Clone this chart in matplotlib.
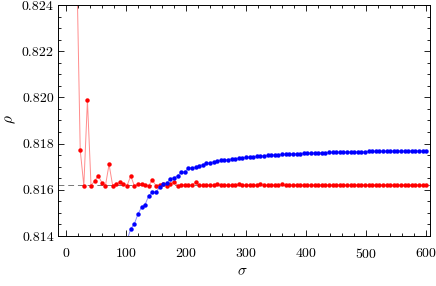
import numpy as np
import matplotlib
matplotlib.use("Agg")
import matplotlib.pyplot as plt
from matplotlib.ticker import MultipleLocator

plt.rcParams['font.family'] = 'serif'
plt.rcParams['font.serif'] = ['cmr10', 'DejaVu Serif']
plt.rcParams['mathtext.fontset'] = 'cm'
plt.rcParams['axes.formatter.use_mathtext'] = True

# red series: sigma = 18, 24, ..., 600
sigma_red = np.arange(18, 601, 6)
rho_red_head = [0.8261, 0.81772, 0.81618, 0.81987, 0.81618, 0.81638, 0.81661, 0.81631,
                0.81618, 0.81710, 0.81618, 0.81627, 0.81632, 0.81624, 0.81618, 0.81660,
                0.81618, 0.81624, 0.81627, 0.81622, 0.81618, 0.81642, 0.81618, 0.81621,
                0.81624, 0.81618, 0.81624, 0.81635, 0.81618, 0.81621, 0.81622, 0.81619,
                0.81620, 0.81633, 0.81619, 0.81620, 0.81621, 0.81619, 0.81620, 0.81627,
                0.81619, 0.81620, 0.81621, 0.81619, 0.81620, 0.81627, 0.81619, 0.81620,
                0.81621, 0.81619, 0.81620, 0.81624, 0.81619, 0.81620, 0.81621, 0.81619,
                0.81620, 0.81623]
rho_red = rho_red_head + [0.81620, 0.81621, 0.81620, 0.81622, 0.81620, 0.81620] * 7
rho_red = rho_red[:len(sigma_red)]

# blue series: sigma = 102, 108, ..., 600
sigma_blue = np.arange(102, 601, 6)
rho_blue = [0.81382, 0.81430, 0.81452, 0.81494, 0.81524, 0.81536, 0.81574, 0.81589,
            0.81589, 0.81611, 0.81624, 0.81628, 0.81648, 0.81652, 0.81660, 0.81675,
            0.81678, 0.81693, 0.81696, 0.81697, 0.81705, 0.81709, 0.81714, 0.81717,
            0.81721, 0.81723, 0.81727, 0.81729, 0.81731, 0.81733, 0.81735, 0.81737,
            0.81739, 0.81740, 0.81742, 0.81743, 0.81745, 0.81746, 0.81747, 0.81749,
            0.81750, 0.81751, 0.81752, 0.81753, 0.81754, 0.81755, 0.81756, 0.81756,
            0.81757, 0.81758, 0.81758, 0.81759, 0.81760, 0.81760, 0.81761, 0.81761,
            0.81762, 0.81762, 0.81762, 0.81763, 0.81763, 0.81764, 0.81764, 0.81764,
            0.81765, 0.81765, 0.81765, 0.81766, 0.81766, 0.81766, 0.81767, 0.81767,
            0.81767, 0.81767, 0.81768, 0.81768, 0.81768, 0.81768, 0.81769, 0.81769,
            0.81769, 0.81769, 0.81769, 0.81770]
rho_blue = rho_blue[:len(sigma_blue)]

rho_limit = 0.81622

fig = plt.figure(figsize=(4.36, 2.86), dpi=100)
ax = fig.add_axes([0.133, 0.175, 0.853, 0.8075])

ax.axhline(rho_limit, color='#777777', lw=0.7, ls=(0, (6, 4)), zorder=1)
ax.plot(sigma_red, rho_red, color='#ff8c8c', lw=0.7, zorder=2)
ax.plot(sigma_red, rho_red, 'o', color='#ff0000', ms=3.2, mew=0, zorder=3)
ax.plot(sigma_blue, rho_blue, color='#8c8cff', lw=0.7, zorder=2)
ax.plot(sigma_blue, rho_blue, 'o', color='#0000ff', ms=3.2, mew=0, zorder=3)

ax.set_xlim(-13, 606)
ax.set_ylim(0.814, 0.824)
ax.xaxis.set_major_locator(MultipleLocator(100))
ax.xaxis.set_minor_locator(MultipleLocator(20))
ax.yaxis.set_major_locator(MultipleLocator(0.002))
ax.yaxis.set_minor_locator(MultipleLocator(0.0005))
ax.yaxis.set_major_formatter(plt.FuncFormatter(lambda v, p: f"{v:.3f}"))
ax.tick_params(which='both', direction='in', top=True, right=True, labelsize=10, width=0.6)
ax.tick_params(which='major', length=4)
ax.tick_params(which='minor', length=2)
ax.tick_params(axis='x', which='major', pad=8)
ax.tick_params(axis='y', which='major', pad=3)
for s in ax.spines.values():
    s.set_linewidth(0.7)

# axis labels placed by figure pixel position
fig.text(242 / 436, 1 - 271 / 286, r'$\sigma$', fontsize=11, ha='center', va='center')
fig.text(11 / 436, 1 - 119 / 286, r'$\rho$', fontsize=11, ha='center', va='center',
         rotation=90)

fig.savefig("out.png", dpi=100)
